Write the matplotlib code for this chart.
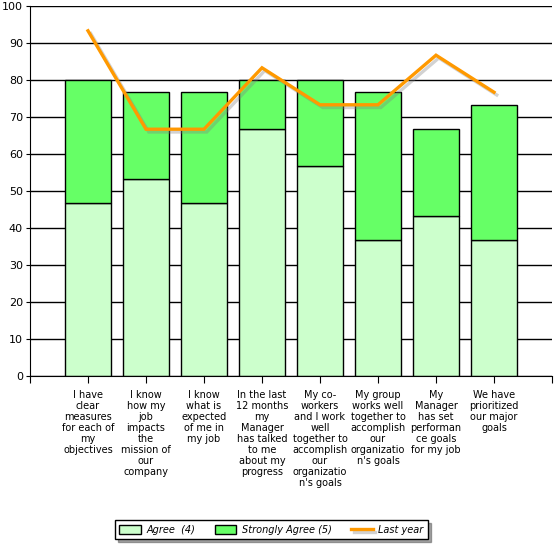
import matplotlib
matplotlib.use("Agg")
import matplotlib.pyplot as plt
import matplotlib.patheffects as pe

plt.rcParams['font.family'] = 'DejaVu Sans'

labels = [
    "I have\nclear\nmeasures\nfor each of\nmy\nobjectives",
    "I know\nhow my\njob\nimpacts\nthe\nmission of\nour\ncompany",
    "I know\nwhat is\nexpected\nof me in\nmy job",
    "In the last\n12 months\nmy\nManager\nhas talked\nto me\nabout my\nprogress",
    "My co-\nworkers\nand I work\nwell\ntogether to\naccomplish\nour\norganizatio\nn's goals",
    "My group\nworks well\ntogether to\naccomplish\nour\norganizatio\nn's goals",
    "My\nManager\nhas set\nperforman\nce goals\nfor my job",
    "We have\nprioritized\nour major\ngoals",
]
agree = [46.7, 53.3, 46.7, 66.7, 56.7, 36.7, 43.3, 36.7]
strongly = [33.3, 23.4, 30.0, 13.3, 23.3, 40.0, 23.4, 36.6]
last_year = [93.3, 66.7, 66.7, 83.3, 73.3, 73.3, 86.7, 76.7]

fig = plt.figure(figsize=(5.54, 5.44), dpi=100)
ax = fig.add_axes([30/554, 168/544, 522/554, 370/544])

x = list(range(len(labels)))
ax.set_axisbelow(True)
ax.yaxis.grid(True, color='black', linewidth=1)
b1 = ax.bar(x, agree, width=0.8, color='#CCFFCC', edgecolor='black', linewidth=1, label='Agree  (4)')
b2 = ax.bar(x, strongly, width=0.8, bottom=agree, color='#66FF66', edgecolor='black', linewidth=1,
            label='Strongly Agree (5)')
ln, = ax.plot(x, last_year, color='#FF9900', linewidth=2.4, label='Last year', solid_joinstyle='miter',
              path_effects=[pe.SimpleLineShadow(offset=(2, -2), shadow_color='gray', alpha=0.35), pe.Normal()])

ax.set_xlim(-1, 8)
ax.set_ylim(0, 100)
ax.set_yticks(range(0, 101, 10))
ax.tick_params(axis='y', labelsize=8, length=3, pad=2)
ax.set_xticks(list(range(-1, 9)))
ax.set_xticklabels([''] + labels + [''], fontsize=7, linespacing=1.12)
ax.tick_params(axis='x', length=5, pad=5)
for s in ['top', 'right']:
    ax.spines[s].set_visible(False)

leg = fig.legend([b1, b2, ln], ['Agree  (4)', 'Strongly Agree (5)', 'Last year'],
                 loc='lower center', bbox_to_anchor=(0.49, 0.0), ncol=3, frameon=True,
                 fancybox=False, shadow=True, prop={'style': 'italic', 'size': 7},
                 handlelength=2.2, handleheight=1.1, handletextpad=0.6, columnspacing=2.0,
                 borderpad=0.45)
leg.get_frame().set_edgecolor('black')

fig.savefig("out.png", dpi=100)
